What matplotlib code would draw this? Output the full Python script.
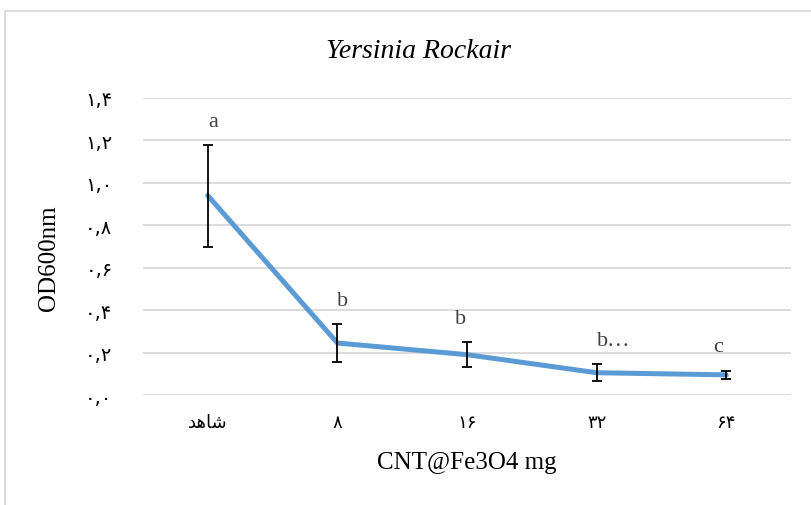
import matplotlib
matplotlib.use('Agg')
import matplotlib.pyplot as plt
from matplotlib.patches import Rectangle

# données
categories = ['\uFEAA\uFEEB\uFE8E\uFEB7', '۸', '۱۶', '۳۲', '۶۴']  # شاهد, 8, 16, 32, 64
od_values = [0.94, 0.245, 0.19, 0.105, 0.095]
od_errors = [0.24, 0.09, 0.06, 0.04, 0.02]
group_letters = ['a', 'b', 'b', 'b…', 'c']
y_ticks = [0.0, 0.2, 0.4, 0.6, 0.8, 1.0, 1.2, 1.4]
y_tick_labels = ['۰,۰', '۰,۲', '۰,۴', '۰,۶', '۰,۸', '۱,۰', '۱,۲', '۱,۴']

W, H = 811, 506
fig = plt.figure(figsize=(W / 100, H / 100), dpi=100)
ax = fig.add_axes([143 / W, 1 - 396 / H, 648 / W, 297 / H])

x = list(range(len(categories)))
ax.plot(x, od_values, color='#5B9BD5', linewidth=3.6, solid_capstyle='round', zorder=3)
ax.errorbar(x, od_values, yerr=od_errors, fmt='none', ecolor='black',
            elinewidth=1.3, capsize=3.8, capthick=1.3, zorder=4)

# lettres de significativité
label_dx = [4, 4, -5, 12, -6]
for i, (v, e, lab) in enumerate(zip(od_values, od_errors, group_letters)):
    ax.annotate(lab, (i, v + e), xytext=(label_dx[i], 17), textcoords='offset points',
                ha='center', va='center', fontsize=16, color='#404040',
                family='Liberation Serif')

ax.set_xlim(-0.5, len(categories) - 0.5)
ax.set_ylim(0, 1.4)
ax.set_yticks(y_ticks)
ax.set_yticklabels(y_tick_labels, family='DejaVu Sans', fontsize=14)
ax.set_xticks(x)
ax.set_xticklabels(categories, family='DejaVu Sans', fontsize=13)
ax.tick_params(length=0)
ax.tick_params(axis='y', pad=22)
ax.tick_params(axis='x', pad=13)
ax.grid(axis='y', color='#D9D9D9', linewidth=1.3)
ax.set_axisbelow(True)
for s in ax.spines.values():
    s.set_visible(False)

ax.set_xlabel('CNT@Fe3O4 mg', family='Liberation Serif', fontsize=18, labelpad=14)
ax.set_ylabel('OD600nm', family='Liberation Serif', fontsize=18)
ax.yaxis.set_label_coords((60 - 143) / 648, (396 - 258) / 297)
fig.text(419 / W, 1 - 52 / H, 'Yersinia Rockair', family='Liberation Serif',
         style='italic', fontsize=20, ha='center', va='center')

# cadre du graphique
fig.patches.append(Rectangle((5 / W, -0.1), 1.2, 1 - 12 / H + 0.1, transform=fig.transFigure,
                             fill=False, edgecolor='#D9D9D9', linewidth=1.3))

fig.savefig('out.png', dpi=100)
